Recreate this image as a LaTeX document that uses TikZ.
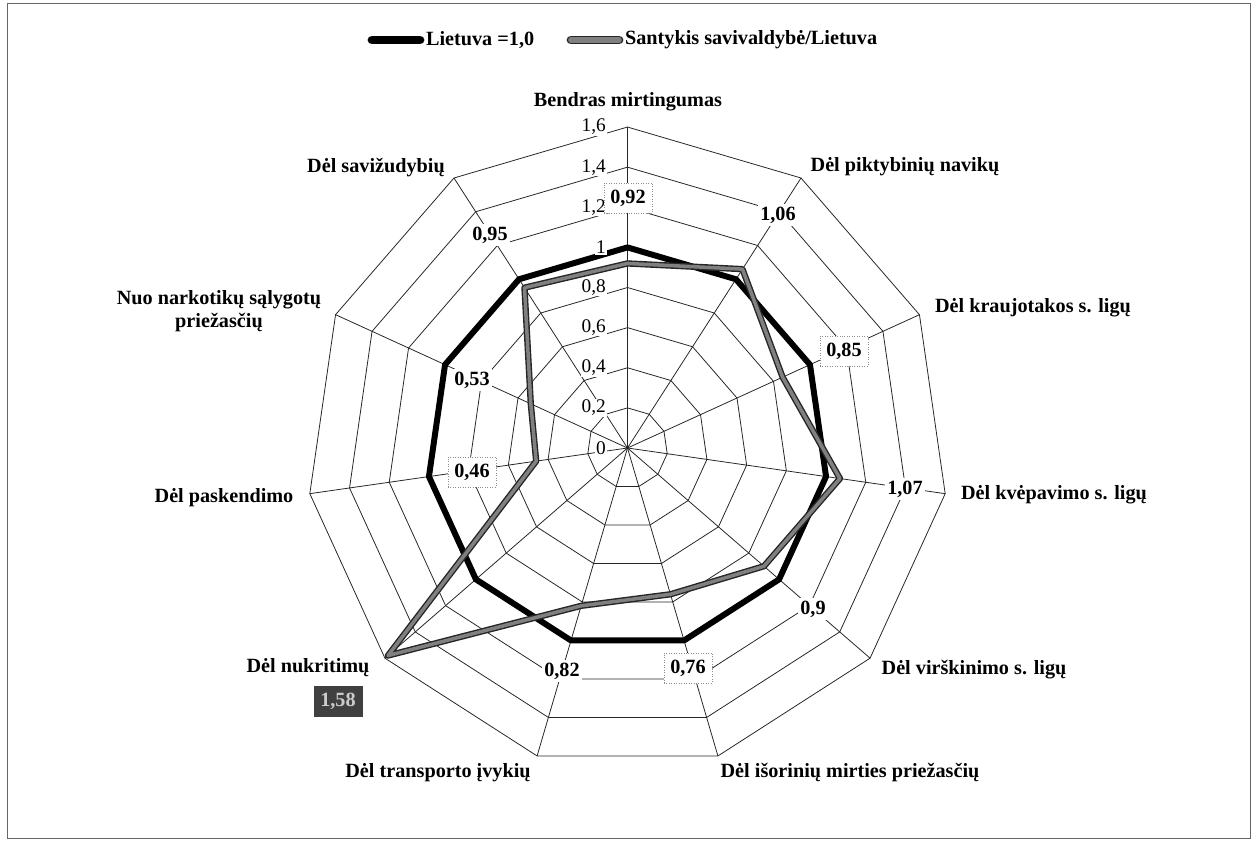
\documentclass[tikz,border=0pt]{standalone}
\usepackage{fontspec}
\setmainfont{Liberation Serif}
\usepackage{tikz}

\begin{document}
\begin{tikzpicture}[x=0.02cm, y=-0.02cm,
  every node/.style={font=\fontsize{11.5}{13}\selectfont\bfseries, inner sep=1pt},
  axlabel/.style={align=center},
  vallabel/.style={fill=white, inner sep=1.5pt},
  valbox/.style={vallabel, draw=black!45, densely dotted, minimum width=0.96cm, minimum height=0.6cm},
  ticklabel/.style={anchor=east, fill=white, font=\fontsize{11}{13}\selectfont, inner sep=0.5pt},
  gridline/.style={line width=0.45pt, black!85},
  lietuva/.style={line width=3.4pt, line join=round},
  santykis/.style={draw=black!85, line width=0.8pt, double=black!50, double distance=2pt, line join=round}]

  \useasboundingbox (0,0) rectangle (1257,841);
  \draw[black!60, line width=0.5pt] (7,3) rectangle (1250,838);

  % legend
  \coordinate (lgA1) at (372,40); \coordinate (lgA2) at (420,40);
  \coordinate (lgB1) at (571,40); \coordinate (lgB2) at (619,40);
  \draw[line width=5pt, line cap=round] (lgA1) -- (lgA2);
  \draw[draw=black!85, line width=0.9pt, double=black!50, double distance=3.2pt, line cap=round] (lgB1) -- (lgB2);
  \node[anchor=west] (lgA) at (424,40) {Lietuva =1,0};
  \node[anchor=west] (lgB) at (623,40) {Santykis savivaldybė/Lietuva};

  \begin{scope}[shift={(627.5,448)}]
    % web
    \foreach \r in {1,...,8}
      \draw[gridline] (-90:\r*40.12) \foreach \k in {1,...,10} { -- (-90+\k*360/11:\r*40.12) } -- cycle;
    \foreach \k in {0,...,10}
      \draw[gridline] (0,0) -- (-90+\k*360/11:321);

    % series points
    \foreach \k in {0,...,10}
      \coordinate (l\k) at (-90+\k*360/11:200.6);
    \foreach \v [count=\k from 0] in {0.92,1.06,0.85,1.07,0.9,0.76,0.82,1.58,0.46,0.53,0.95}
      \coordinate (s\k) at (-90+\k*360/11:\v*200.6);

    \draw[lietuva] (l0) -- (l1) -- (l2) -- (l3) -- (l4) -- (l5) -- (l6) -- (l7) -- (l8) -- (l9) -- (l10) -- cycle;
    \draw[santykis] (s0) -- (s1) -- (s2) -- (s3) -- (s4) -- (s5) -- (s6) -- (s7) -- (s8) -- (s9) -- (s10) -- cycle;

    % scale
    \foreach \t [count=\r from 0] in {0,{0,2},{0,4},{0,6},{0,8},1,{1,2},{1,4},{1,6}}
      \node[ticklabel] (t\r) at (-20.5,-\r*40.12) {\t};
  \end{scope}

  % axis names
  \node[axlabel] (a0) at (628,102) {Bendras mirtingumas};
  \node[axlabel] (a1) at (905,167) {Dėl piktybinių navikų};
  \node[axlabel] (a2) at (1033,308) {Dėl kraujotakos s. ligų};
  \node[axlabel] (a3) at (1054,495) {Dėl kvėpavimo s. ligų};
  \node[axlabel] (a4) at (974,670) {Dėl virškinimo s. ligų};
  \node[axlabel] (a5) at (850,773) {Dėl išorinių mirties priežasčių};
  \node[axlabel] (a6) at (438,773) {Dėl transporto įvykių};
  \node[axlabel] (a7) at (308,668) {Dėl nukritimų};
  \node[axlabel] (a8) at (224,498) {Dėl paskendimo};
  \node[axlabel] (a9) at (219,311) {Nuo narkotikų sąlygotų\\priežasčių};
  \node[axlabel] (a10) at (376,168) {Dėl savižudybių};

  % values
  \node[valbox] (v0) at (628,198) {0,92};
  \node[vallabel] (v1) at (778,215) {1,06};
  \node[valbox] (v2) at (844,351) {0,85};
  \node[vallabel] (v3) at (905,489) {1,07};
  \node[vallabel] (v4) at (813,609) {0,9};
  \node[valbox] (v5) at (688,668) {0,76};
  \node[vallabel] (v6) at (562,671) {0,82};
  \node[fill=black!75, text=black!20, minimum width=0.98cm, minimum height=0.62cm] (v7) at (338,701) {1,58};
  \node[valbox] (v8) at (472,472) {0,46};
  \node[vallabel] (v9) at (472,380) {0,53};
  \node[vallabel] (v10) at (490,235) {0,95};
\end{tikzpicture}
\end{document}
